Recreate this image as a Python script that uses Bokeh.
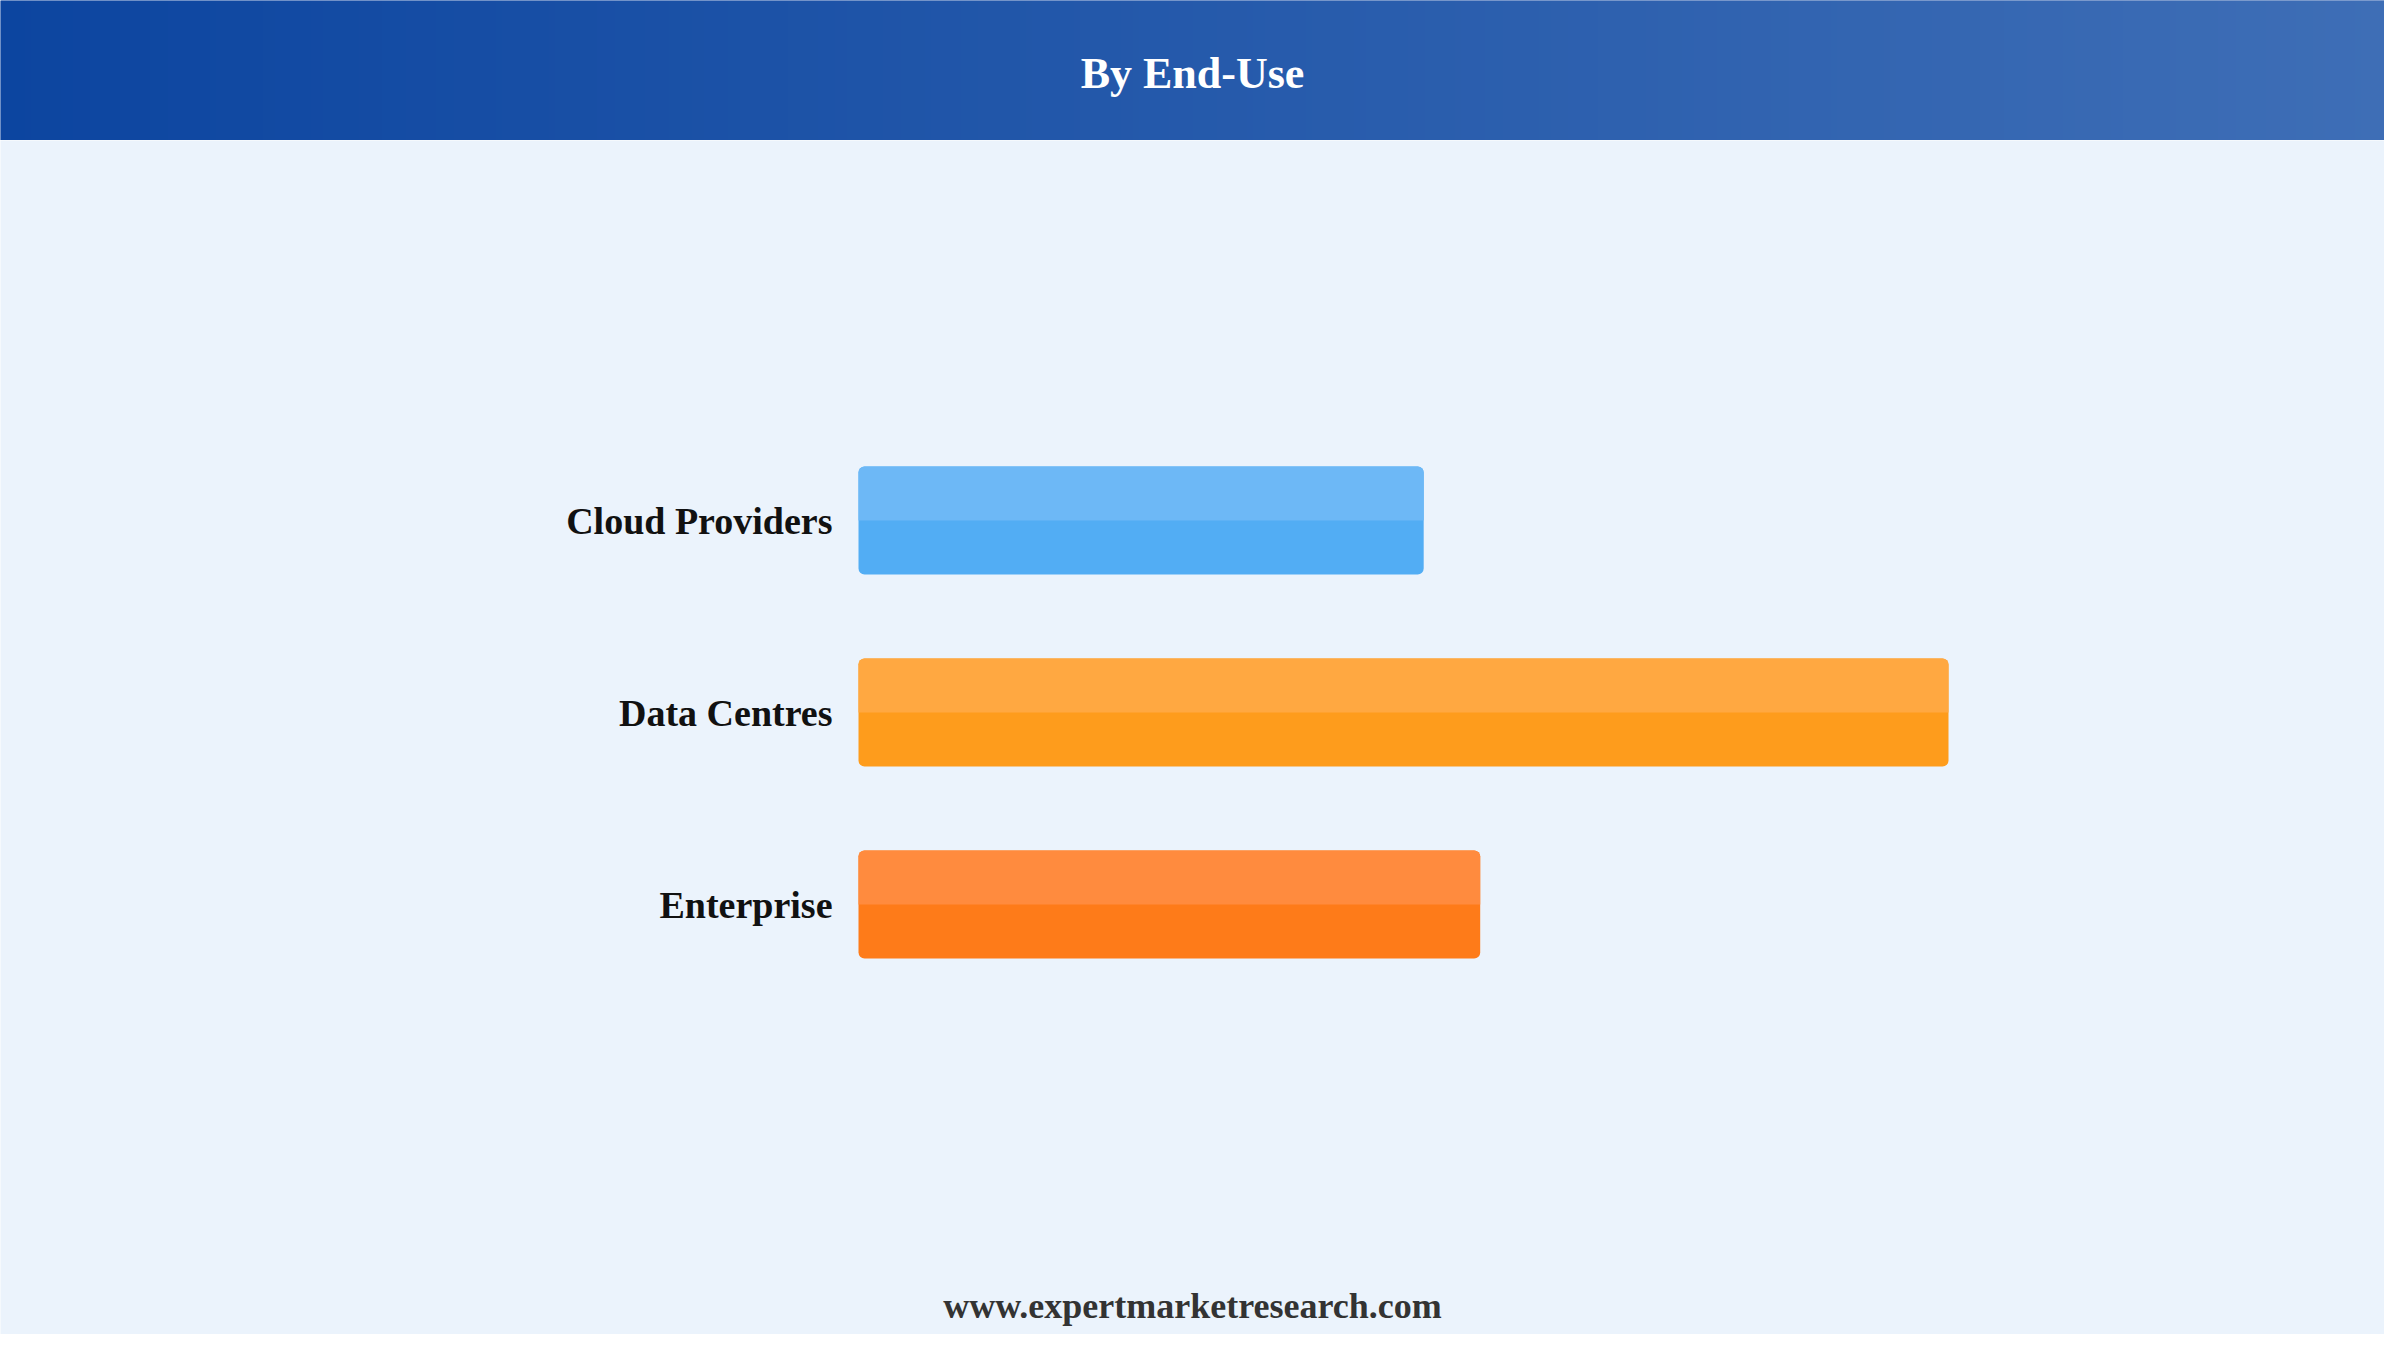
import numpy as np
from bokeh.plotting import figure
from bokeh.layouts import column
from bokeh.models import Range1d, Label
from bokeh.core.properties import value
from bokeh.embed import file_html
from bokeh.resources import INLINE

# ---- data ----
categories = ["Cloud Providers", "Data Centres", "Enterprise"]
values = [28.0, 54.0, 30.8]
base_colors = ["#52ADF4", "#FE9C1C", "#FE7B19"]
top_colors = ["#6DB8F6", "#FFA841", "#FF8B3E"]
title_text = "By End-Use"
footer_text = "www.expertmarketresearch.com"

# ---- layout constants ----
W = 2384
TOTAL_H = 1334
HEAD_H = 140
MAIN_H = TOTAL_H - HEAD_H
BAR_LEFT_PX = 858
X_END = 75.6
ROW_PX = 192.0
FIRST_ROW_PX = 380.0
BAR_H = 0.5625
FONT = "Liberation Serif"
BG = "#EBF3FC"

# ---- header ----
hdr = figure(width=W, height=HEAD_H, x_range=Range1d(0, 1), y_range=Range1d(0, 1),
             output_backend="svg", toolbar_location=None, min_border=0)
hdr.axis.visible = False
hdr.grid.visible = False
hdr.outline_line_color = None
hdr.background_fill_color = "#2457AB"
hdr.border_fill_color = "#2457AB"
n = 400
t = np.linspace(0, 1, n)
c0 = np.array([12, 69, 160], dtype=float)
c1 = np.array([62, 110, 182], dtype=float)
rgb = c0[None, :] * (1 - t[:, None]) + c1[None, :] * t[:, None]
img = np.zeros((1, n), dtype=np.uint32)
view = img.view(dtype=np.uint8).reshape((1, n, 4))
view[0, :, 0:3] = np.round(rgb).astype(np.uint8)
view[0, :, 3] = 255
hdr.image_rgba(image=[img], x=0, y=0, dw=1, dh=1)
hdr.text(x=[0.5], y=[1 - 73 / HEAD_H], text=[title_text], text_align="center",
         text_baseline="middle", text_font=value(FONT), text_font_style="bold",
         text_font_size="44px", text_color="#FFFFFF")

# ---- main ----
unit = (W - BAR_LEFT_PX) / X_END
x_start = -BAR_LEFT_PX / unit
nrow = len(categories)
ypos = [nrow - 1 - i for i in range(nrow)]
y_top = (nrow - 1) + FIRST_ROW_PX / ROW_PX
y_bottom = y_top - MAIN_H / ROW_PX

p = figure(width=W, height=MAIN_H, x_range=Range1d(x_start, X_END),
           y_range=Range1d(y_bottom, y_top), output_backend="svg",
           toolbar_location=None, min_border=0)
p.axis.visible = False
p.grid.visible = False
p.outline_line_color = None
p.background_fill_color = BG
p.border_fill_color = BG

p.hbar(y=ypos, left=0, right=values, height=BAR_H, fill_color=base_colors,
       line_color=None, border_radius=6)
p.hbar(y=[y + BAR_H / 4 for y in ypos], left=0, right=values, height=BAR_H / 2,
       fill_color=top_colors, line_color=None, border_radius=(6, 6, 0, 0))

p.text(x=[0] * nrow, y=ypos, text=categories, x_offset=-26, text_align="right",
       text_baseline="middle", text_font=value(FONT), text_font_style="bold",
       text_font_size="38px", text_color="#111111")

p.add_layout(Label(x=W / 2, y=29, x_units="screen", y_units="screen", text=footer_text,
                   text_align="center", text_baseline="middle", text_font=FONT,
                   text_font_style="bold", text_font_size="36px", text_color="#333333"))

layout = column(hdr, p, spacing=0)
open("out.html", "w").write(file_html(layout, INLINE))
